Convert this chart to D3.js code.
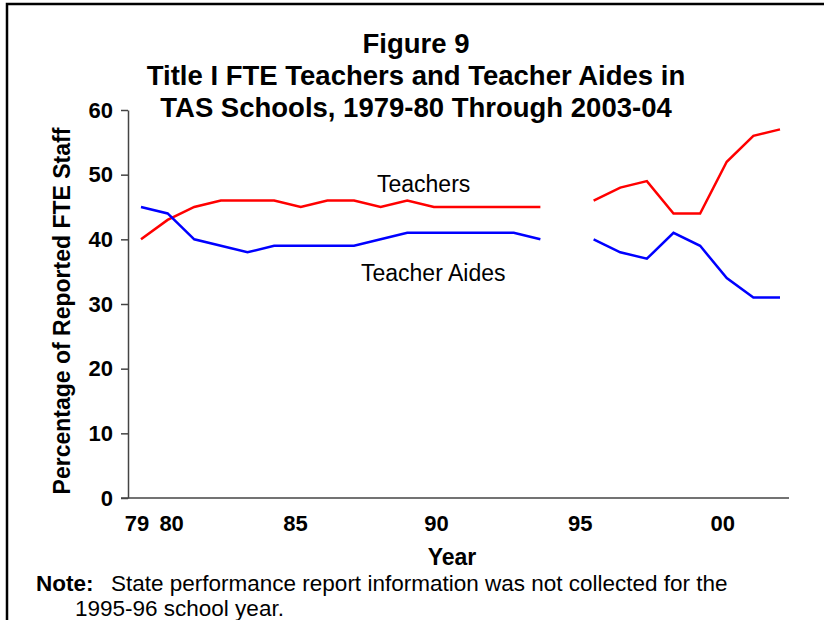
<!DOCTYPE html>
<meta charset="utf-8">
<script src="https://d3js.org/d3.v7.min.js"></script>
<style>
  body { margin: 0; background: #fff; }
  text { font-family: "Liberation Sans", Arial, sans-serif; }
</style>
<div id="chart"></div>
<script>

// data (1995-96 not collected)
var years = d3.range(1979, 2004);
var teachers = [40, 43, 45, 46, 46, 46, 45, 46, 46, 45, 46, 45, 45, 45, 45, 45, null, 46, 48, 49, 44, 44, 52, 56, 57];
var aides    = [45, 44, 40, 39, 38, 39, 39, 39, 39, 40, 41, 41, 41, 41, 41, 40, null, 40, 38, 37, 41, 39, 34, 31, 31];

// x tick labels and where they sit along the year axis
var xTickLabels = ["79", "80", "85", "90", "95", "00"];
var xTickPos    = [1978.85, 1980.15, 1984.8, 1990.1, 1995.5, 2000.85];
var yTicks = [0, 10, 20, 30, 40, 50, 60];

var width = 824, height = 620;

var svg = d3.select("#chart")
  .append("svg")
    .attr("width", width)
    .attr("height", height);

// frame (top + left edges visible)
svg.append("path")
  .attr("d", "M7,620 V4 H824")
  .attr("fill", "none")
  .attr("stroke", "#000")
  .attr("stroke-width", 2.5);

var x = d3.scaleLinear()
  .domain([1979, 2003])
  .range([141, 780]);

var y = d3.scaleLinear()
  .domain([0, 60])
  .range([498, 110]);

// y axis
var yAxis = svg.append("g")
  .attr("transform", "translate(128,0)")
  .call(d3.axisLeft(y).tickValues(yTicks).tickSize(7).tickSizeOuter(0).tickPadding(8));
yAxis.select(".domain").attr("stroke", "#444").attr("stroke-width", 1.5);
yAxis.selectAll(".tick line").attr("stroke", "#444").attr("stroke-width", 1.5);
yAxis.selectAll("text")
  .attr("fill", "#000")
  .style("font-size", "22px")
  .style("font-weight", "bold");

// x axis line (no tick marks)
svg.append("line")
  .attr("x1", 121).attr("x2", 789)
  .attr("y1", y(0)).attr("y2", y(0))
  .attr("stroke", "#444")
  .attr("stroke-width", 1.5);

svg.selectAll(".xlab")
  .data(xTickLabels)
  .enter().append("text")
    .attr("class", "xlab")
    .attr("x", function(d, i) { return x(xTickPos[i]); })
    .attr("y", 531)
    .attr("text-anchor", "middle")
    .style("font-size", "22px")
    .style("font-weight", "bold")
    .text(function(d) { return d; });

// lines
var line = d3.line()
  .defined(function(d) { return d.v != null; })
  .x(function(d) { return x(d.year); })
  .y(function(d) { return y(d.v); });

function toPts(vals) {
  return years.map(function(yr, i) { return {year: yr, v: vals[i]}; });
}

svg.append("path")
  .datum(toPts(teachers))
  .attr("fill", "none")
  .attr("stroke", "#ff0000")
  .attr("stroke-width", 2.5)
  .attr("d", line);

svg.append("path")
  .datum(toPts(aides))
  .attr("fill", "none")
  .attr("stroke", "#0000ff")
  .attr("stroke-width", 2.5)
  .attr("d", line);

// series labels
svg.append("text")
  .attr("x", 377).attr("y", 192)
  .style("font-size", "23px")
  .text("Teachers");

svg.append("text")
  .attr("x", 361).attr("y", 281)
  .style("font-size", "23px")
  .text("Teacher Aides");

// titles
var title = ["Figure 9", "Title I FTE Teachers and Teacher Aides in", "TAS Schools, 1979-80 Through 2003-04"];
svg.selectAll(".title")
  .data(title)
  .enter().append("text")
    .attr("class", "title")
    .attr("x", 416)
    .attr("y", function(d, i) { return 53 + i * 32; })
    .attr("text-anchor", "middle")
    .style("font-size", "27.5px")
    .style("font-weight", "bold")
    .text(function(d) { return d; });

// axis titles
svg.append("text")
  .attr("transform", "translate(70,311) rotate(-90)")
  .attr("text-anchor", "middle")
  .style("font-size", "23px")
  .style("font-weight", "bold")
  .text("Percentage of Reported FTE Staff");

svg.append("text")
  .attr("x", 452).attr("y", 565)
  .attr("text-anchor", "middle")
  .style("font-size", "23px")
  .style("font-weight", "bold")
  .text("Year");

// note
var note = svg.append("text")
  .attr("x", 36).attr("y", 591)
  .style("font-size", "22.5px");
note.append("tspan").style("font-weight", "bold").text("Note:");
note.append("tspan").attr("x", 111).text("State performance report information was not collected for the");
note.append("tspan").attr("x", 75).attr("y", 616).text("1995-96 school year.");

</script>
